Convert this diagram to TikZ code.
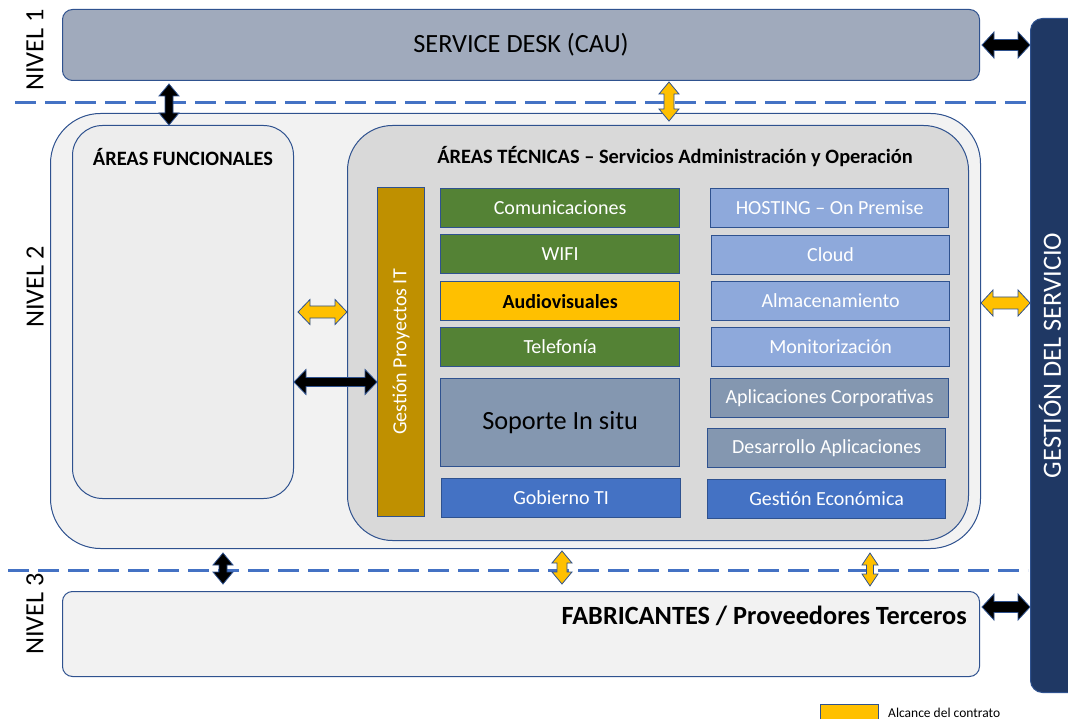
\documentclass[tikz,border=0pt]{standalone}
\usepackage{fontspec}
\setmainfont{Carlito}
\usetikzlibrary{calc,positioning}

\definecolor{frameblue}{RGB}{47,82,143}
\definecolor{deskfill}{RGB}{160,170,188}
\definecolor{outerfill}{RGB}{242,242,242}
\definecolor{funcfill}{RGB}{237,237,237}
\definecolor{techfill}{RGB}{217,217,217}
\definecolor{gpfill}{RGB}{191,144,0}
\definecolor{netgreen}{RGB}{84,130,53}
\definecolor{avyellow}{RGB}{255,192,0}
\definecolor{hostblue}{RGB}{142,169,219}
\definecolor{slate}{RGB}{132,151,176}
\definecolor{govblue}{RGB}{68,114,196}
\definecolor{navy}{RGB}{31,56,100}

\newcommand\fntcell{\fontsize{20}{23}\selectfont}
\newcommand\fntbig{\fontsize{26.3}{29}\selectfont}
\newcommand\fnttitle{\fontsize{20.4}{23}\selectfont\bfseries}
\newcommand\fntleg{\fontsize{13.5}{15}\selectfont}

\tikzset{
    big box/.style={draw=frameblue, line width=1pt, anchor=north west, inner sep=0pt},
    cell/.style={draw=frameblue, line width=1.2pt, anchor=north west, inner sep=0pt,
        minimum width=239pt, minimum height=39pt, text=white, font=\fntcell},
    title/.style={font=\fnttitle},
    nivel/.style={rotate=90, font=\fntbig, inner sep=0pt},
    level line/.style={draw=govblue, line width=3pt, dash pattern=on 21pt off 9pt},
    black arrow/.style={fill=black, draw=frameblue, line width=0.8pt},
    gold arrow/.style={fill=avyellow, draw=frameblue, line width=0.8pt},
}

% double block arrow: style, from, to, shaft half width, head half width
\newcommand\blockarrow[5]{%
    \path (#2) coordinate (baA) (#3) coordinate (baB);
    \coordinate (ba1) at ($(baA)!12pt!(baB)$);
    \coordinate (ba2) at ($(baB)!12pt!(baA)$);
    \draw[#1] (baA) -- ($(ba1)!#5!90:(baB)$) -- ($(ba1)!#4!90:(baB)$)
        -- ($(ba2)!#4!-90:(baA)$) -- ($(ba2)!#5!-90:(baA)$) -- (baB)
        -- ($(ba2)!#5!90:(baA)$) -- ($(ba2)!#4!90:(baA)$)
        -- ($(ba1)!#4!-90:(baB)$) -- ($(ba1)!#5!-90:(baB)$) -- cycle;
}

\begin{document}
\begin{tikzpicture}[x=1pt,y=-1pt]
\useasboundingbox (0,0) rectangle (1068,719);

% niveles
\draw[level line] (15,103) -- (1028,103);
\draw[level line] (8,570) -- (1028,570);
\node[nivel] (niv1) at (35,50) {NIVEL 1};
\node[nivel] (niv2) at (35,287) {NIVEL 2};
\node[nivel] (niv3) at (35,614) {NIVEL 3};

% gestion del servicio
\node[big box, fill=navy, rounded corners=12pt, minimum width=80pt, minimum height=674pt] (gs) at (1030,18) {};
\node[rotate=90, text=white, font=\fntbig, inner sep=0pt] (gstext) at ([xshift=20pt]gs.west) {GESTIÓN DEL SERVICIO};

% nivel 1
\node[big box, fill=deskfill, rounded corners=10pt, minimum width=917pt, minimum height=71pt, font=\fntbig] (sd) at (62,9) {SERVICE DESK (CAU)};

% nivel 2
\node[big box, fill=outerfill, rounded corners=50pt, minimum width=930pt, minimum height=435pt] (n2) at (50,113) {};
\node[big box, fill=funcfill, rounded corners=30pt, minimum width=221pt, minimum height=373pt] (af) at (72,125) {};
\node[title] (aftitle) at ([yshift=-32pt]af.north) {ÁREAS FUNCIONALES};
\node[big box, fill=techfill, rounded corners=45pt, minimum width=621pt, minimum height=415pt] (at) at (347,125) {};
\node[title] (attitle) at ([xshift=17pt,yshift=-32pt]at.north) {ÁREAS TÉCNICAS – Servicios Administración y Operación};

\node[cell, fill=gpfill, minimum width=47pt, minimum height=329pt] (gp) at (377,187) {};
\node[rotate=90, text=white, font=\fntcell] (gptext) at (gp.center) {Gestión Proyectos IT};

\node[cell, fill=netgreen] (com) at (440,188) {Comunicaciones};
\node[cell, fill=netgreen] (wifi) at (440,234) {WIFI};
\node[cell, fill=avyellow, text=black, font=\fntcell\bfseries] (av) at (440,281) {Audiovisuales};
\node[cell, fill=netgreen] (tel) at (440,327) {Telefonía};
\node[cell, fill=slate, text=black, font=\fntbig, minimum height=88pt] (sop) at (440,378) {Soporte In situ};
\node[cell, fill=govblue] (gob) at (441,478) {Gobierno TI};

\node[cell, fill=hostblue, minimum width=238pt] (host) at (710,188) {HOSTING – On Premise};
\node[cell, fill=hostblue, minimum width=238pt] (cloud) at (711,235) {Cloud};
\node[cell, fill=hostblue, minimum width=238pt] (alm) at (711,281) {Almacenamiento};
\node[cell, fill=hostblue, minimum width=238pt] (mon) at (711,327) {Monitorización};
\node[cell, fill=slate, minimum width=238pt] (apc) at (710,378) {Aplicaciones Corporativas};
\node[cell, fill=slate, minimum width=238pt] (des) at (707,428) {Desarrollo Aplicaciones};
\node[cell, fill=govblue, minimum width=238pt] (gec) at (707,479) {Gestión Económica};

% nivel 3
\node[big box, fill=outerfill, rounded corners=10pt, minimum width=917pt, minimum height=85pt] (fab) at (62,591) {};
\node[font=\fntbig\bfseries, anchor=base east, inner sep=0pt] (fabtext) at ([xshift=-13pt,yshift=-33pt]fab.north east) {FABRICANTES / Proveedores Terceros};

% leyenda
\node[cell, fill=avyellow, minimum width=58pt, minimum height=18pt] (leg) at (820,704) {};
\node[font=\fntleg, anchor=west, inner sep=0pt] (legtext) at ([xshift=68pt,yshift=1pt]leg.west) {Alcance del contrato};

% flechas
\coordinate (c1) at (169,0);
\coordinate (c2) at (669,0);
\coordinate (c3) at (223,0);
\coordinate (c4) at (562,0);
\coordinate (c5) at (870,0);
\coordinate (r1) at (0,312);
\coordinate (r2) at (0,382);
\coordinate (r3) at (0,303);
\coordinate (r4) at (0,607);
\blockarrow{black arrow}{$(sd.south -| c1)+(0,3)$}{af.north -| c1}{4pt}{10pt}
\blockarrow{gold arrow}{$(sd.south -| c2)+(0,1)$}{$(at.north -| c2)+(0,-4)$}{5pt}{10pt}
\blockarrow{black arrow}{$(sd.east)+(2,0)$}{gs.west |- sd.east}{5.5pt}{13pt}
\blockarrow{gold arrow}{$(af.east |- r1)+(4,0)$}{at.west |- r1}{6pt}{12.5pt}
\blockarrow{black arrow}{af.east |- r2}{gp.west |- r2}{4.5pt}{12.5pt}
\blockarrow{gold arrow}{n2.east |- r3}{gs.west |- r3}{6pt}{13pt}
\blockarrow{black arrow}{$(n2.south -| c3)+(0,4)$}{$(fab.north -| c3)+(0,-7)$}{4pt}{10pt}
\blockarrow{gold arrow}{$(n2.south -| c4)+(0,2)$}{$(fab.north -| c4)+(0,-7)$}{5pt}{10pt}
\blockarrow{gold arrow}{$(n2.south -| c5)+(0,4)$}{$(fab.north -| c5)+(0,-5)$}{3.5pt}{8pt}
\blockarrow{black arrow}{$(fab.east |- r4)+(2,0)$}{gs.west |- r4}{5.5pt}{13pt}
\end{tikzpicture}
\end{document}
